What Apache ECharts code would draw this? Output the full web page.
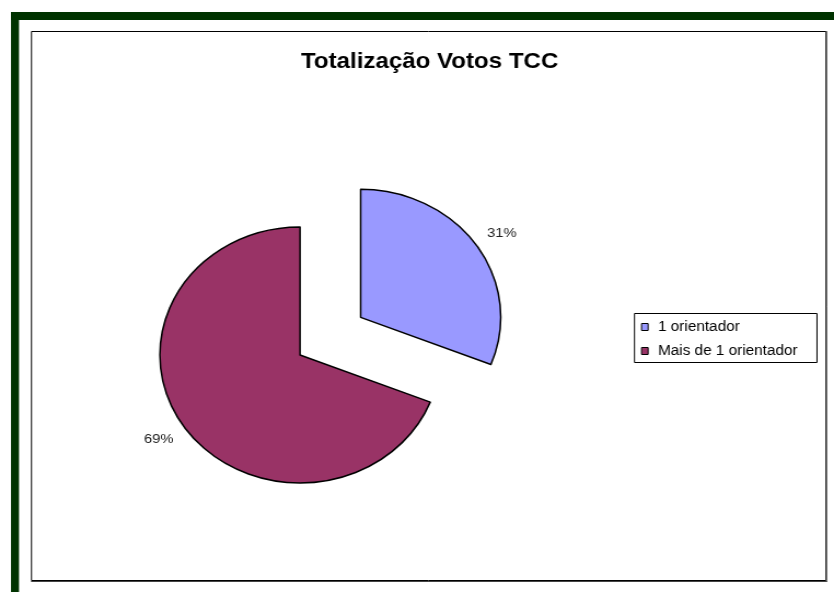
<!DOCTYPE html>
<html>
<head>
<meta charset="utf-8">
<script src="https://cdn.jsdelivr.net/npm/echarts@6/dist/echarts.min.js"></script>
<style>
html,body{margin:0;padding:0;background:#fff;overflow:hidden;}
#wrap{width:834px;height:592px;overflow:hidden;position:relative;}
#c{width:762px;height:592px;transform:scaleX(1.0945);transform-origin:0 0;}
</style>
</head>
<body>
<div id="wrap"><div id="c"></div></div>
<script>
const titleText = 'Totalização Votos TCC';
const categories = ['1 orientador', 'Mais de 1 orientador'];
const values = [31, 69];
const sliceColors = ['#9999FF', '#993366'];

const S = 1.0945; // horizontal stretch of the reference picture
const X = v => v / S;
const FONT = 'Liberation Sans, Arial, sans-serif';

const chart = echarts.init(document.getElementById('c'), null, {renderer: 'canvas'});
chart.setOption({
  backgroundColor: '#fff',
  animation: false,
  graphic: [
    {type: 'rect', shape: {x: X(11), y: 12, width: X(8), height: 600}, style: {fill: '#003300'}, z: 0},
    {type: 'rect', shape: {x: X(11), y: 12, width: 900, height: 8}, style: {fill: '#003300'}, z: 0},
    {type: 'rect', shape: {x: X(31.5), y: 31.5, width: X(826) - X(31.5), height: 549}, style: {fill: 'none', stroke: '#000', lineWidth: 1}, z: 0},
    {type: 'line', shape: {x1: X(826.5), y1: 31, x2: X(826.5), y2: 582}, style: {stroke: '#444', lineWidth: 1}, z: 0},
    {type: 'line', shape: {x1: X(31), y1: 581.5, x2: X(827), y2: 581.5}, style: {stroke: '#444', lineWidth: 1}, z: 0},
    {type: 'rect', shape: {x: X(634.5), y: 313.5, width: X(817) - X(634.5), height: 49}, style: {fill: '#fff', stroke: '#000', lineWidth: 1}, z: 0}
  ],
  title: {
    text: titleText,
    left: X(301),
    top: 51,
    padding: 0,
    textStyle: {fontFamily: FONT, fontSize: 22, fontWeight: 'bold', color: '#000'}
  },
  legend: {
    orient: 'vertical',
    left: X(641),
    top: 320,
    padding: 0,
    data: categories,
    icon: 'rect',
    itemWidth: 6,
    itemHeight: 7,
    itemGap: 10,
    selectedMode: false,
    textStyle: {fontFamily: FONT, fontSize: 14, color: '#000', padding: [0, 0, 0, 4]},
    itemStyle: {borderColor: '#000', borderWidth: 1}
  },
  series: [{
    type: 'pie',
    center: [X(300), 355],
    radius: 128,
    startAngle: 90,
    clockwise: true,
    selectedMode: 'single',
    selectedOffset: 67,
    emphasis: {disabled: true},
    itemStyle: {borderColor: '#000', borderWidth: 1.5},
    label: {
      show: true,
      position: 'outside',
      formatter: '{d}%',
      fontFamily: FONT,
      fontSize: 13.5,
      color: '#222'
    },
    labelLine: {show: false, length: 22, length2: 0},
    labelLayout: function (p) {
      const w = p.labelRect.width / 2;
      return {dx: p.align === 'left' ? -w : (p.align === 'right' ? w : 0)};
    },
    data: categories.map((name, i) => ({
      name: name,
      value: values[i],
      selected: i === 0,
      itemStyle: {color: sliceColors[i]}
    }))
  }]
});
</script>
</body>
</html>
